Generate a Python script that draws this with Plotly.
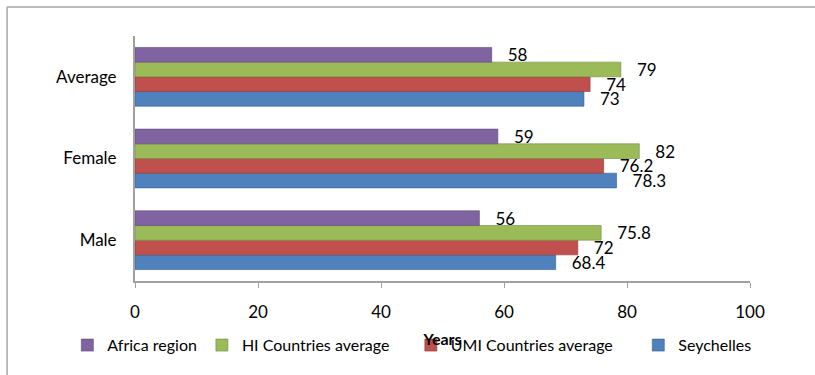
import plotly.graph_objects as go

categories = ["Male", "Female", "Average"]
seychelles = [68.4, 78.3, 73]
umi_avg = [72, 76.2, 74]
hi_avg = [75.8, 82, 79]
africa = [56, 59, 58]

NB = "\u00a0"
series = [
    ("Seychelles", seychelles, "#4F81BD", "#385D8A"),
    ("UMI Countries average" + NB * 5, umi_avg, "#C0504D", "#8C3836"),
    ("HI Countries average" + NB * 4, hi_avg, "#9BBB59", "#71893F"),
    ("Africa region", africa, "#8064A2", "#5C4776"),
]

x_ticks = [0, 20, 40, 60, 80, 100]
FONT = "Lato, Carlito, Calibri, sans-serif"

fig = go.Figure()
for name, vals, col, edge in series:
    fig.add_trace(go.Bar(
        y=categories, x=vals, name=name, orientation="h",
        marker=dict(color=col, line=dict(color=edge, width=0.6)),
        text=[NB * 3 + f"{v:g}" for v in vals], textposition="outside",
        textfont=dict(size=17, color="black", family=FONT),
        constraintext="none", cliponaxis=False,
    ))

fig.update_layout(
    width=815, height=375,
    margin=dict(l=135, r=65, t=36, b=94),
    paper_bgcolor="white", plot_bgcolor="white",
    barmode="group", bargap=0.28, bargroupgap=0,
    font=dict(family=FONT, size=16, color="black"),
    showlegend=True,
    legend=dict(orientation="h", traceorder="reversed",
                x=-0.11, xanchor="left", y=-0.262, yanchor="middle",
                font=dict(size=16, family=FONT), itemwidth=30,
                bgcolor="rgba(0,0,0,0)"),
    xaxis=dict(range=[0, 100], tickvals=x_ticks, showgrid=False, zeroline=False,
               showline=True, linecolor="#A0A0A0", linewidth=2,
               ticks="outside", ticklen=5, tickcolor="#A0A0A0",
               ticklabelstandoff=10, tickfont=dict(size=17),
               title=dict(text="<b>Years</b>", font=dict(size=16), standoff=12)),
    yaxis=dict(showgrid=False, zeroline=False, showline=True, linecolor="#A0A0A0",
               linewidth=2, ticks="", ticklabelstandoff=13, tickfont=dict(size=17)),
)

# outer chart-area border (left and top edges visible in the crop)
fig.add_shape(type="line", xref="paper", yref="paper", x0=-0.208, x1=-0.208,
              y0=1.118, y1=-0.6, line=dict(color="#A6A6A6", width=1.5))
fig.add_shape(type="line", xref="paper", yref="paper", x0=-0.208, x1=1.2,
              y0=1.118, y1=1.118, line=dict(color="#A6A6A6", width=1.5))

fig.write_html("out.html")
